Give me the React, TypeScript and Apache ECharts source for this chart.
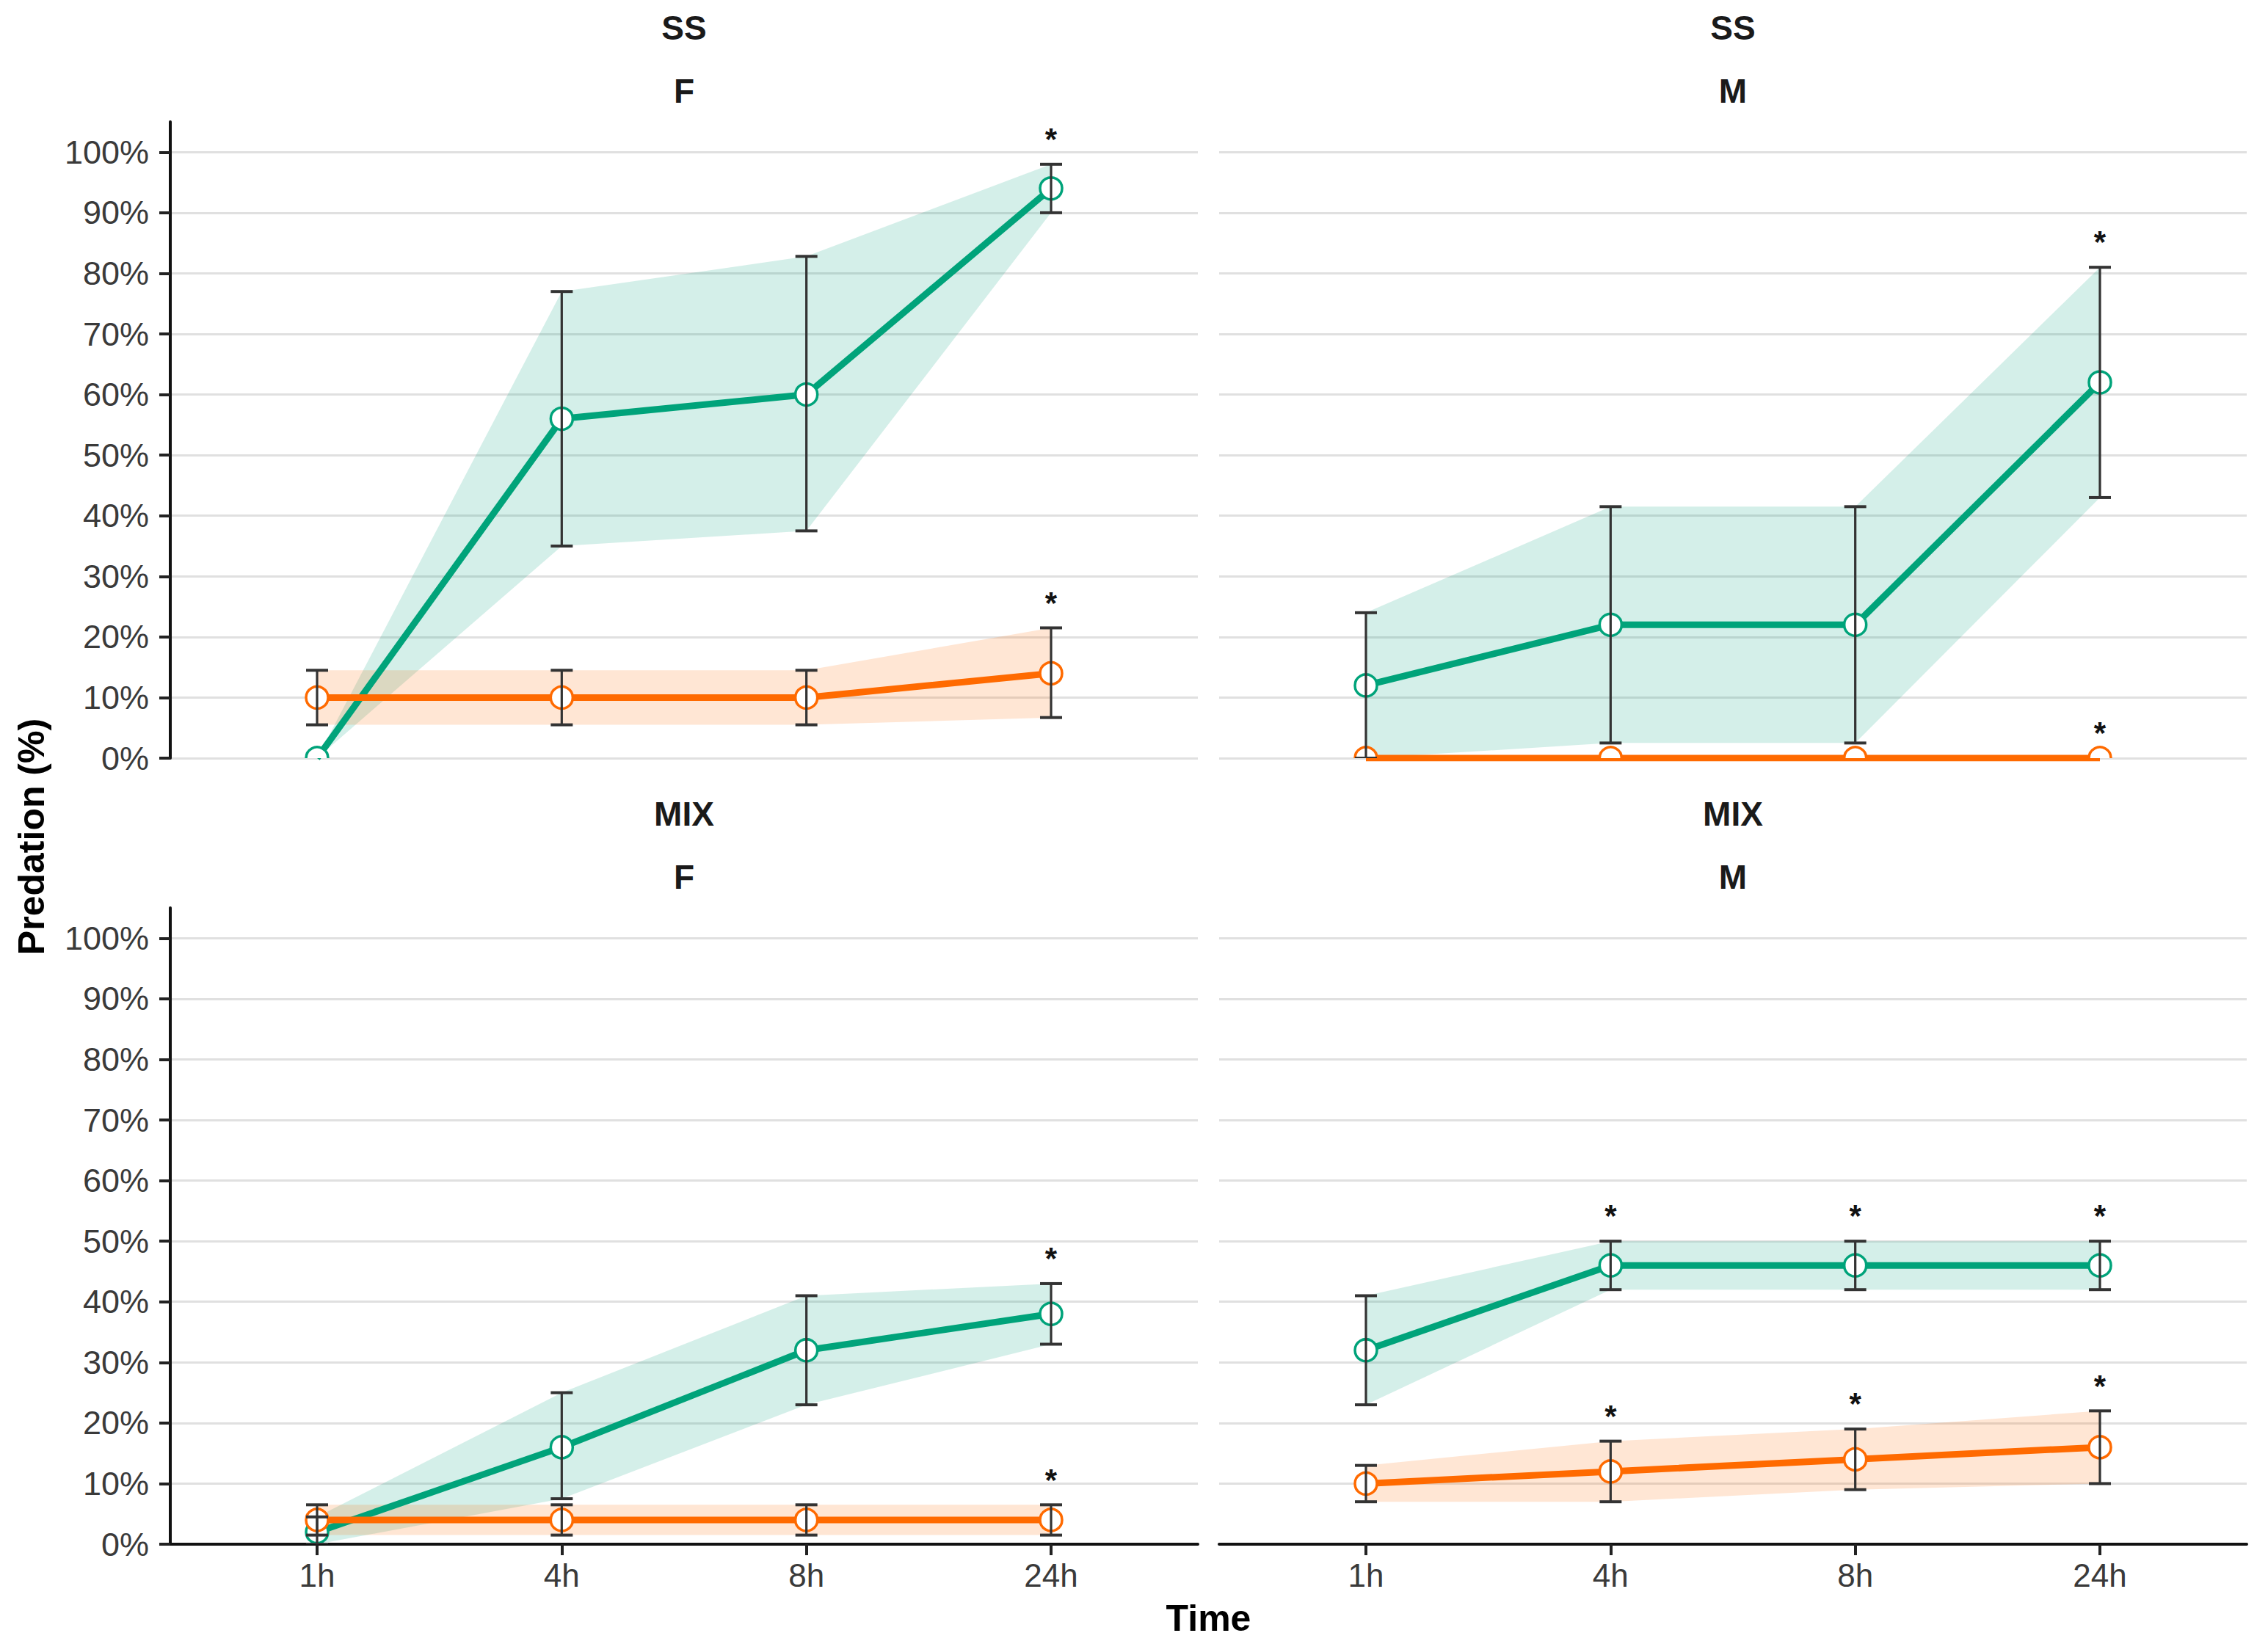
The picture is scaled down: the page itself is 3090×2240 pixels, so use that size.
import React, { useEffect, useRef } from 'react';
import * as echarts from 'echarts';

// ---------- data ----------
const timeLabels = ['1h', '4h', '8h', '24h'];
const timeX = [1, 2, 3, 4];
const yTicks = [0, 10, 20, 30, 40, 50, 60, 70, 80, 90, 100];
const rowLabels = ['SS', 'SS', 'MIX', 'MIX'];
const colLabels = ['F', 'M', 'F', 'M'];

// SS - F
const ssF_greenMean = [0, 56, 60, 94];
const ssF_greenLow = [0, 35, 37.5, 90];
const ssF_greenHigh = [0, 77, 82.8, 98];
const ssF_orangeMean = [10, 10, 10, 14];
const ssF_orangeLow = [5.5, 5.5, 5.5, 6.7];
const ssF_orangeHigh = [14.5, 14.5, 14.5, 21.5];
const ssF_greenStar = [0, 0, 0, 1];
const ssF_orangeStar = [0, 0, 0, 1];

// SS - M
const ssM_greenMean = [12, 22, 22, 62];
const ssM_greenLow = [0, 2.5, 2.5, 43];
const ssM_greenHigh = [24, 41.5, 41.5, 81];
const ssM_orangeMean = [0, 0, 0, 0];
const ssM_orangeLow = [0, 0, 0, 0];
const ssM_orangeHigh = [0, 0, 0, 0];
const ssM_greenStar = [0, 0, 0, 1];
const ssM_orangeStar = [0, 0, 0, 1];

// MIX - F
const mixF_greenMean = [2, 16, 32, 38];
const mixF_greenLow = [0, 7.5, 23, 33];
const mixF_greenHigh = [4.5, 25, 41, 43];
const mixF_orangeMean = [4, 4, 4, 4];
const mixF_orangeLow = [1.5, 1.5, 1.5, 1.5];
const mixF_orangeHigh = [6.5, 6.5, 6.5, 6.5];
const mixF_greenStar = [0, 0, 0, 1];
const mixF_orangeStar = [0, 0, 0, 1];

// MIX - M
const mixM_greenMean = [32, 46, 46, 46];
const mixM_greenLow = [23, 42, 42, 42];
const mixM_greenHigh = [41, 50, 50, 50];
const mixM_orangeMean = [10, 12, 14, 16];
const mixM_orangeLow = [7, 7, 9, 10];
const mixM_orangeHigh = [13, 17, 19, 22];
const mixM_greenStar = [0, 1, 1, 1];
const mixM_orangeStar = [0, 1, 1, 1];

const starOffset = 5;

// ---------- styling / layout ----------
const GREEN = '#00A37A';
const ORANGE = '#FF6A00';
const GREEN_FILL = 'rgba(0,163,122,0.17)';
const ORANGE_FILL = 'rgba(255,106,0,0.17)';
const FONT = 'Liberation Sans, Arial, sans-serif';
const W = 3090;
const H = 2240;
const GRID_LEFT = [232, 1661];
const GRID_TOP = [166, 1237];
const GRID_W = 1400;
const GRID_H = 867;

type Grp = { mean: number[]; low: number[]; high: number[]; star: number[] };
type Panel = { green: Grp; orange: Grp };

const panels: Panel[] = [
  {
    green: { mean: ssF_greenMean, low: ssF_greenLow, high: ssF_greenHigh, star: ssF_greenStar },
    orange: { mean: ssF_orangeMean, low: ssF_orangeLow, high: ssF_orangeHigh, star: ssF_orangeStar },
  },
  {
    green: { mean: ssM_greenMean, low: ssM_greenLow, high: ssM_greenHigh, star: ssM_greenStar },
    orange: { mean: ssM_orangeMean, low: ssM_orangeLow, high: ssM_orangeHigh, star: ssM_orangeStar },
  },
  {
    green: { mean: mixF_greenMean, low: mixF_greenLow, high: mixF_greenHigh, star: mixF_greenStar },
    orange: { mean: mixF_orangeMean, low: mixF_orangeLow, high: mixF_orangeHigh, star: mixF_orangeStar },
  },
  {
    green: { mean: mixM_greenMean, low: mixM_greenLow, high: mixM_greenHigh, star: mixM_greenStar },
    orange: { mean: mixM_orangeMean, low: mixM_orangeLow, high: mixM_orangeHigh, star: mixM_orangeStar },
  },
];

function ribbon(p: number, g: Grp, fill: string) {
  return {
    type: 'custom',
    xAxisIndex: p,
    yAxisIndex: p,
    clip: true,
    silent: true,
    z: 2,
    data: [[timeX[0], g.mean[0]]],
    renderItem: (_params: any, api: any) => {
      const pts: number[][] = [];
      for (let i = 0; i < timeX.length; i++) pts.push(api.coord([timeX[i], g.high[i]]));
      for (let i = timeX.length - 1; i >= 0; i--) pts.push(api.coord([timeX[i], g.low[i]]));
      return { type: 'polygon', shape: { points: pts }, style: { fill, stroke: 'none' } };
    },
  };
}

function lineS(p: number, g: Grp, color: string) {
  return {
    type: 'line',
    xAxisIndex: p,
    yAxisIndex: p,
    symbol: 'none',
    silent: true,
    z: 3,
    clip: true,
    lineStyle: { color, width: 9 },
    data: timeX.map((x, i) => [x, g.mean[i]]),
  };
}

function points(p: number, g: Grp, color: string) {
  return {
    type: 'custom',
    xAxisIndex: p,
    yAxisIndex: p,
    clip: true,
    silent: true,
    z: 4,
    data: timeX.map((x, i) => [x, g.mean[i]]),
    renderItem: (_params: any, api: any) => {
      const c = api.coord([api.value(0), api.value(1)]);
      return {
        type: 'circle',
        shape: { cx: c[0], cy: c[1], r: 15 },
        style: { fill: '#ffffff', stroke: color, lineWidth: 3.5 },
      };
    },
  };
}

function errorBars(p: number, g: Grp) {
  return {
    type: 'custom',
    xAxisIndex: p,
    yAxisIndex: p,
    clip: true,
    silent: true,
    z: 5,
    data: timeX.map((x, i) => [x, g.low[i], g.high[i]]),
    renderItem: (_params: any, api: any) => {
      const x = api.value(0);
      const lo = api.value(1);
      const hi = api.value(2);
      if (hi === lo) return null;
      const top = api.coord([x, hi]);
      const bot = api.coord([x, lo]);
      const hw = 15;
      const st = { stroke: '#333333', lineWidth: 3.2 };
      return {
        type: 'group',
        children: [
          { type: 'line', shape: { x1: top[0], y1: top[1], x2: bot[0], y2: bot[1] }, style: st },
          { type: 'line', shape: { x1: top[0] - hw, y1: top[1], x2: top[0] + hw, y2: top[1] }, style: { ...st, lineWidth: 4 } },
          { type: 'line', shape: { x1: bot[0] - hw, y1: bot[1], x2: bot[0] + hw, y2: bot[1] }, style: { ...st, lineWidth: 4 } },
        ],
      };
    },
  };
}

function stars(p: number, g: Grp) {
  const data: number[][] = [];
  timeX.forEach((x, i) => {
    if (g.star[i]) data.push([x, g.high[i] + starOffset]);
  });
  return {
    type: 'custom',
    xAxisIndex: p,
    yAxisIndex: p,
    clip: false,
    silent: true,
    z: 6,
    data,
    renderItem: (_params: any, api: any) => {
      const c = api.coord([api.value(0), api.value(1)]);
      return {
        type: 'text',
        x: c[0],
        y: c[1] + 7,
        style: {
          text: '*',
          fontSize: 42,
          fontWeight: 'bold',
          fontFamily: FONT,
          fill: '#111111',
          textAlign: 'center',
          textVerticalAlign: 'middle',
        },
      };
    },
  };
}

export default function App() {
  const ref = useRef<HTMLDivElement>(null);

  useEffect(() => {
    if (!ref.current) return;
    const chart = echarts.init(ref.current, undefined, { renderer: 'svg', width: W, height: H });

    const grids = panels.map((_, p) => ({
      left: GRID_LEFT[p % 2],
      top: GRID_TOP[Math.floor(p / 2)],
      width: GRID_W,
      height: GRID_H,
      containLabel: false,
    }));

    const xAxes = panels.map((_, p) => ({
      type: 'value',
      gridIndex: p,
      min: 0.4,
      max: 4.6,
      show: p >= 2,
      axisLine: { show: true, onZero: false, lineStyle: { color: '#111111', width: 4 } },
      axisTick: { show: true, length: 15, customValues: timeX, lineStyle: { color: '#222222', width: 4 } },
      axisLabel: {
        show: true,
        customValues: timeX,
        formatter: (v: number) => timeLabels[Math.round(v) - 1] ?? '',
        fontSize: 44,
        fontFamily: FONT,
        color: '#3A3A3A',
        margin: 20,
      },
      splitLine: { show: false },
    }));

    const yAxes = panels.map((_, p) => ({
      type: 'value',
      gridIndex: p,
      min: 0,
      max: 105,
      interval: 10,
      axisLine: { show: p % 2 === 0, onZero: false, lineStyle: { color: '#111111', width: 4 } },
      axisTick: { show: p % 2 === 0, length: 15, customValues: yTicks, lineStyle: { color: '#222222', width: 4 } },
      axisLabel: {
        show: p % 2 === 0,
        customValues: yTicks,
        formatter: (v: number) => `${v}%`,
        fontSize: 45,
        fontFamily: FONT,
        color: '#3A3A3A',
        margin: 29,
      },
      splitLine: { show: true, lineStyle: { color: '#E0E0E0', width: 3 } },
    }));

    const series: any[] = [];
    panels.forEach((pn, p) => {
      series.push(ribbon(p, pn.green, GREEN_FILL));
      series.push(ribbon(p, pn.orange, ORANGE_FILL));
      series.push(lineS(p, pn.green, GREEN));
      series.push(lineS(p, pn.orange, ORANGE));
      series.push(points(p, pn.green, GREEN));
      series.push(points(p, pn.orange, ORANGE));
      series.push(errorBars(p, pn.green));
      series.push(errorBars(p, pn.orange));
      series.push(stars(p, pn.green));
      series.push(stars(p, pn.orange));
    });

    const stripText = (text: string, x: number, y: number) => ({
      type: 'text',
      x,
      y,
      style: {
        text,
        fontSize: 46,
        fontWeight: 'bold',
        fontFamily: FONT,
        fill: '#1A1A1A',
        textAlign: 'center',
        textVerticalAlign: 'middle',
      },
    });

    const graphics: any[] = [];
    panels.forEach((_, p) => {
      const cx = GRID_LEFT[p % 2] + GRID_W / 2;
      const top = GRID_TOP[Math.floor(p / 2)];
      graphics.push(stripText(rowLabels[p], cx, top - 128));
      graphics.push(stripText(colLabels[p], cx, top - 42));
    });
    graphics.push({
      type: 'text',
      x: 43,
      y: 1140,
      rotation: Math.PI / 2,
      style: {
        text: 'Predation (%)',
        fontSize: 50,
        fontWeight: 'bold',
        fontFamily: FONT,
        fill: '#000000',
        textAlign: 'center',
        textVerticalAlign: 'middle',
      },
    });
    graphics.push({
      type: 'text',
      x: (GRID_LEFT[0] + GRID_LEFT[1] + GRID_W) / 2,
      y: 2205,
      style: {
        text: 'Time',
        fontSize: 50,
        fontWeight: 'bold',
        fontFamily: FONT,
        fill: '#000000',
        textAlign: 'center',
        textVerticalAlign: 'middle',
      },
    });

    chart.setOption({
      animation: false,
      backgroundColor: '#ffffff',
      grid: grids,
      xAxis: xAxes,
      yAxis: yAxes,
      series,
      graphic: graphics,
    });

    return () => chart.dispose();
  }, []);

  return (
    <div
      ref={ref}
      style={{ position: 'absolute', left: 0, top: 0, width: W, height: H, background: '#fff' }}
    />
  );
}
